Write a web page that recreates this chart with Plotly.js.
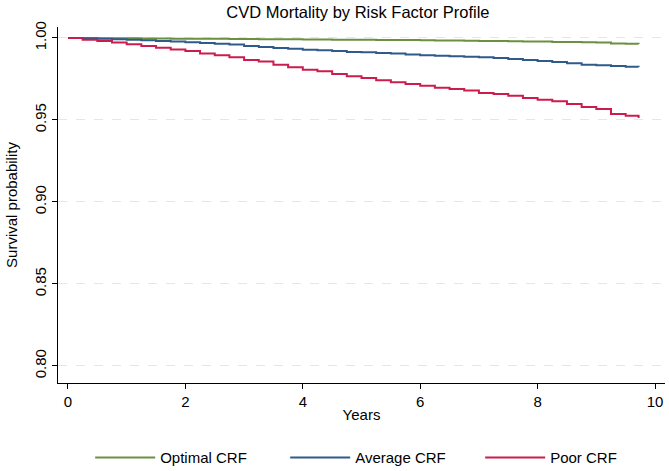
<!DOCTYPE html>
<html>
<head>
<meta charset="utf-8">
<script src="https://cdn.plot.ly/plotly-3.0.1.min.js"></script>
<style>html,body{margin:0;padding:0;background:#fff;}#chart{width:669px;height:471px;}</style>
</head>
<body>
<div id="chart"></div>
<script>
const years = [0,0.25,0.5,0.75,1,1.25,1.5,1.75,2,2.25,2.5,2.75,3,3.25,3.5,3.75,4,4.25,4.5,4.75,5,5.25,5.5,5.75,6,6.25,6.5,6.75,7,7.25,7.5,7.75,8,8.25,8.5,8.75,9,9.25,9.5,9.72];
const optimalCRF = [1.0000,0.9999,0.9999,0.9998,0.9998,0.9997,0.9997,0.9996,0.9996,0.9995,0.9995,0.9994,0.9994,0.9993,0.9993,0.9992,0.9991,0.9991,0.9990,0.9990,0.9989,0.9988,0.9988,0.9987,0.9986,0.9985,0.9984,0.9983,0.9982,0.9981,0.9980,0.9979,0.9978,0.9976,0.9975,0.9974,0.9973,0.9966,0.9965,0.9964];
const averageCRF = [1.0000,0.9998,0.9996,0.9993,0.9990,0.9986,0.9982,0.9979,0.9974,0.9970,0.9965,0.9960,0.9951,0.9945,0.9939,0.9935,0.9929,0.9925,0.9921,0.9915,0.9913,0.9909,0.9905,0.9900,0.9894,0.9891,0.9889,0.9886,0.9882,0.9878,0.9872,0.9866,0.9860,0.9854,0.9846,0.9837,0.9833,0.9829,0.9825,0.9823];
const poorCRF = [1.0000,0.9990,0.9981,0.9973,0.9962,0.9951,0.9941,0.9930,0.9920,0.9905,0.9895,0.9883,0.9866,0.9856,0.9837,0.9821,0.9807,0.9797,0.9780,0.9766,0.9756,0.9742,0.9730,0.9720,0.9709,0.9697,0.9689,0.9679,0.9665,0.9659,0.9648,0.9634,0.9624,0.9614,0.9598,0.9579,0.9567,0.9537,0.9526,0.9512];
const seriesNames = ["Optimal CRF","Average CRF","Poor CRF"];
const xTicks = [0,2,4,6,8,10];
const yTicks = [0.80,0.85,0.90,0.95,1.00];
const yTickText = ["0.80","0.85","0.90","0.95","1.00"];

const FONT = '"Liberation Sans Narrow", "Liberation Sans", Arial, sans-serif';
const colors = ["#6a9040","#2f5b8a","#cc1c4c"];
const ys = [optimalCRF, averageCRF, poorCRF];
const traces = ys.map((y,i)=>({
  x: years, y: y, type: 'scatter', mode: 'lines', name: seriesNames[i],
  line: {color: colors[i], width: 2, shape: 'hv'}
}));

const layout = {
  width: 669, height: 471,
  margin: {l: 58, r: 4, t: 27, b: 88, autoexpand: false},
  paper_bgcolor: '#ffffff', plot_bgcolor: '#ffffff',
  font: {family: FONT, color: '#000', size: 15},
  title: {text: 'CVD Mortality by Risk Factor Profile', x: 0.535, xanchor: 'center', y: 0.975, yanchor: 'middle', font: {family: FONT, size: 16.5, color: '#000'}},
  xaxis: {
    range: [-0.17, 10.17], tickvals: xTicks, ticktext: xTicks.map(String),
    ticks: 'outside', ticklen: 5, tickcolor: '#000', showgrid: false, zeroline: false,
    showline: true, linecolor: '#000', linewidth: 1,
    tickfont: {family: FONT, size: 15},
    title: {text: 'Years', font: {family: FONT, size: 15}, standoff: 0}
  },
  yaxis: {
    range: [0.7896, 1.0067], tickvals: yTicks, ticktext: yTickText, tickangle: -90,
    ticks: 'outside', ticklen: 5, tickcolor: '#000', zeroline: false,
    showgrid: true, gridcolor: '#e6e6e6', griddash: 'dash', gridwidth: 1,
    showline: true, linecolor: '#000', linewidth: 1,
    tickfont: {family: FONT, size: 15},
    title: {text: 'Survival probability', font: {family: FONT, size: 15}, standoff: 10}
  },
  showlegend: true,
  legend: {orientation: 'h', x: 0.053, xanchor: 'left', y: -0.21, yanchor: 'middle',
    font: {family: FONT, size: 15}, itemwidth: 60, entrywidth: 120, entrywidthmode: 'pixels',
    tracegroupgap: 0, bgcolor: 'rgba(0,0,0,0)'}
};
Plotly.newPlot('chart', traces, layout, {displayModeBar: false, staticPlot: true});
</script>
</body>
</html>
